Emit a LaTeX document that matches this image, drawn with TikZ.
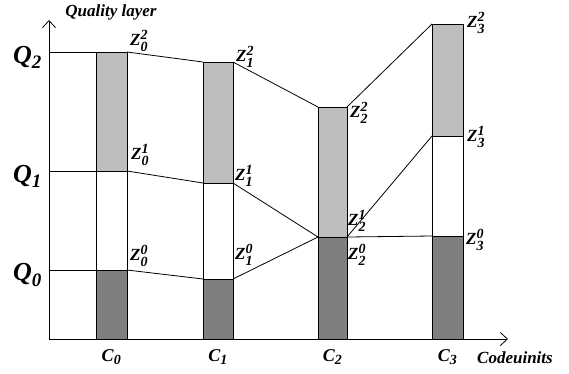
\documentclass[tikz,border=0pt]{standalone}
\usepackage{fontspec}
\setmainfont{Liberation Serif}
\usepackage{amsmath}
\usetikzlibrary{arrows.meta, positioning}
\definecolor{layerLight}{HTML}{BEBEBE}
\definecolor{layerDark}{HTML}{7F7F7F}
\DeclareMathSizes{17}{17}{14}{11}
\DeclareMathSizes{18}{18}{14}{11}
\DeclareMathSizes{26}{26}{19}{14}
\newcommand{\bi}[1]{\text{\bfseries\itshape #1}}
\newcommand{\zlab}[2]{$\bi{Z}_{\bi{#1}}^{\bi{#2}}$}
\newcommand{\qlab}[1]{$\bi{Q}_{\bi{#1}}$}
\newcommand{\clab}[1]{$\bi{C}_{\bi{#1}}$}
\tikzset{
  axisline/.style={-{Straight Barb[length=7pt,width=13pt]}, line width=0.8pt},
  layerline/.style={line width=0.8pt},
  barbox/.style={draw, line width=1pt},
  zlabel/.style={anchor=west, inner sep=0pt, font=\fontsize{17}{17}\selectfont},
  qlabel/.style={anchor=west, inner sep=0pt, font=\fontsize{26}{26}\selectfont},
  clabel/.style={inner sep=0pt, font=\fontsize{18}{18}\selectfont},
  axislabel/.style={inner sep=0pt, font=\fontsize{17}{17}\bfseries\itshape},
}
\begin{document}
\begin{tikzpicture}[x=1pt, y=-1pt]
    \useasboundingbox (0,0) rectangle (569,373);
    % axes
    \coordinate (O) at (49,339);
    \coordinate (ytip) at (49,20);
    \coordinate (xtip) at (508,339);
    % codeunits: index / left / right / Z^0 / Z^1 / Z^2
    \foreach \i/\xl/\xr/\ya/\yb/\yc in {0/96/127/270/171/52, 1/203/233/279/183/62,
                                        2/318/347/237/237/107, 3/432/463/236/136/24} {
      \coordinate (B\i) at (\xl,339);
      \coordinate (L\i-0) at (\xl,\ya);
      \coordinate (R\i-0) at (\xr,\ya);
      \coordinate (L\i-1) at (\xl,\yb);
      \coordinate (R\i-1) at (\xr,\yb);
      \coordinate (L\i-2) at (\xl,\yc);
      \coordinate (R\i-2) at (\xr,\yc);
      \fill[layerDark] (B\i) rectangle (R\i-0);
      \fill[layerLight] (L\i-1) rectangle (R\i-2);
      \draw[barbox] (B\i) rectangle (R\i-2);
      \draw[barbox] (L\i-0) -- (R\i-0);
      \draw[barbox] (L\i-1) -- (R\i-1);
      \node[clabel] (c\i) at ({(\xl+\xr)/2},357) {\clab{\i}};
    }
    \draw[axisline] (O) -- (ytip);
    \draw[axisline] (O) -- (xtip);
    \node[axislabel] (ylab) at (111,12) {Quality layer};
    \node[axislabel] (xlab) at (515,358) {Codeuinits};
    % quality levels on the axis
    \foreach \k/\y in {0/270, 1/171, 2/52} {
      \coordinate (Q\k) at (49,\y);
      \node[qlabel] (q\k) at (13,\y+5) {\qlab{\k}};
      \draw[layerline] (Q\k) -- (L0-\k);
    }
    % connectors between codeunits
    \foreach \k in {0,1,2} {
      \draw[layerline] (R0-\k) -- (L1-\k);
      \draw[layerline] (R1-\k) -- (L2-\k);
      \draw[layerline] (R2-\k) -- (L3-\k);
    }
    % truncation points
    \node[zlabel] (z0-2) at (130,41) {\zlab{0}{2}};
    \node[zlabel] (z1-2) at (236,57) {\zlab{1}{2}};
    \node[zlabel] (z2-2) at (350,113) {\zlab{2}{2}};
    \node[zlabel] (z3-2) at (467,23) {\zlab{3}{2}};
    \node[zlabel] (z0-1) at (131,155) {\zlab{0}{1}};
    \node[zlabel] (z1-1) at (235,176) {\zlab{1}{1}};
    \node[zlabel] (z3-1) at (467,137) {\zlab{3}{1}};
    \node[zlabel] (z0-0) at (130,256) {\zlab{0}{0}};
    \node[zlabel] (z1-0) at (235,255) {\zlab{1}{0}};
    \node[zlabel] (z2-1) at (348,221) {\zlab{2}{1}};
    \node[zlabel] (z2-0) at (348,255) {\zlab{2}{0}};
    \node[zlabel] (z3-0) at (466,240) {\zlab{3}{0}};
\end{tikzpicture}
\end{document}
